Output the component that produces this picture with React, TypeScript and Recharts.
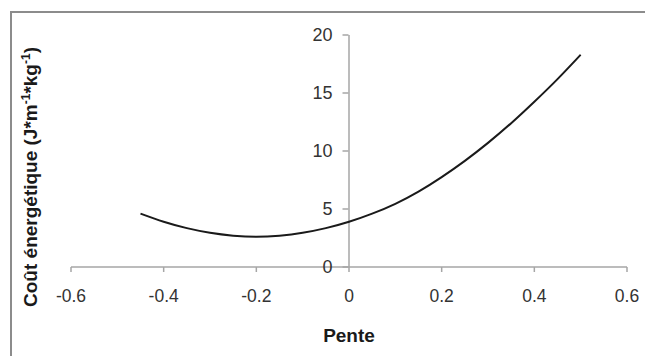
import { LineChart, Line, XAxis, YAxis, ReferenceLine } from 'recharts';

// pente (slope) vs coût énergétique
const pentes = [-0.45, -0.4, -0.35, -0.3, -0.25, -0.2, -0.15, -0.1, -0.05, 0, 0.05, 0.1, 0.15, 0.2, 0.25, 0.3, 0.35, 0.4, 0.45, 0.5];
const couts = [4.6, 3.9, 3.35, 2.95, 2.7, 2.6, 2.7, 2.95, 3.35, 3.9, 4.6, 5.45, 6.5, 7.75, 9.15, 10.7, 12.4, 14.25, 16.2, 18.3];

const xTicks = [-0.6, -0.4, -0.2, 0, 0.2, 0.4, 0.6];
const yTicks = [0, 5, 10, 15, 20];

const data = pentes.map((p, i) => ({ pente: p, cout: couts[i] }));

const FONT = '"Liberation Sans", Arial, sans-serif';
const AXIS = '#a6a6a6';
const TEXT = '#333';
// the y axis crosses at pente = 0, so y ticks are moved from the plot's left edge
const Y_SHIFT = 277.5;

function YTick(props: any) {
  const { x, y, payload } = props;
  const ax = x + Y_SHIFT;
  return (
    <g>
      <line x1={ax - 6} x2={ax} y1={y} y2={y} stroke={AXIS} strokeWidth={1.5} />
      <text x={ax - 16} y={y} dy="0.36em" textAnchor="end" fill={TEXT} fontSize={18} fontFamily={FONT}>
        {payload.value}
      </text>
    </g>
  );
}

function YTitle() {
  return (
    <text
      x={0}
      y={0}
      transform="translate(37,177) rotate(-90)"
      textAnchor="middle"
      fill="#1a1a1a"
      fontSize={19}
      fontWeight="bold"
      fontFamily={FONT}
    >
      Coût énergétique (J*m
      <tspan fontSize={12} dy={-7}>-1</tspan>
      <tspan dy={7}>*kg</tspan>
      <tspan fontSize={12} dy={-7}>-1</tspan>
      <tspan dy={7}>)</tspan>
    </text>
  );
}

export default function App() {
  return (
    <div style={{ position: 'absolute', left: 0, top: 0, width: 645, height: 356, background: '#fff', overflow: 'hidden' }}>
      <div style={{ position: 'absolute', left: 10, top: 11, width: 700, height: 400, border: '2px solid #8c8c8c' }} />
      <div style={{ position: 'absolute', left: 0, top: 0 }}>
        <LineChart width={645} height={356} data={data} margin={{ top: 35, right: 18, bottom: 9, left: 11 }}>
          <XAxis
            dataKey="pente"
            type="number"
            domain={[-0.6, 0.6]}
            ticks={xTicks}
            stroke={AXIS}
            strokeWidth={1.5}
            tickSize={5}
            tickMargin={18}
            height={80}
            tick={{ fill: TEXT, fontSize: 17.5, fontFamily: FONT }}
            label={{ value: 'Pente', position: 'insideBottom', offset: 5, fill: '#1a1a1a', fontSize: 19, fontWeight: 'bold', fontFamily: FONT }}
          />
          <YAxis
            type="number"
            domain={[0, 20]}
            ticks={yTicks}
            width={60}
            axisLine={false}
            tickLine={false}
            tickSize={0}
            tickMargin={0}
            tick={<YTick />}
            label={<YTitle />}
          />
          <ReferenceLine x={0} stroke={AXIS} strokeWidth={1.5} ifOverflow="extendDomain" />
          <Line
            type="natural"
            dataKey="cout"
            stroke="#1a1a1a"
            strokeWidth={2}
            dot={false}
            isAnimationActive={false}
          />
        </LineChart>
      </div>
    </div>
  );
}
